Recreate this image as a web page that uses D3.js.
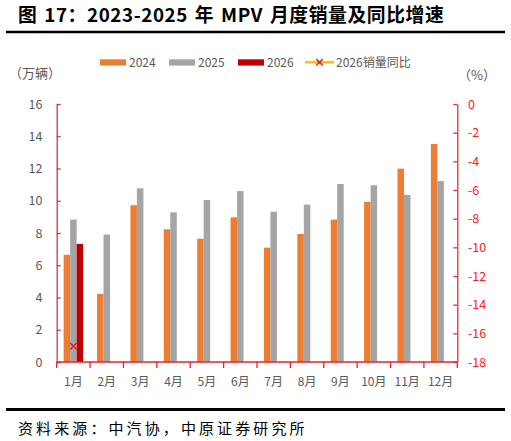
<!DOCTYPE html>
<html>
<head>
<meta charset="utf-8">
<script src="https://cdn.jsdelivr.net/npm/d3@7"></script>
<style>
  body { margin: 0; background: #fff; }
  svg { display: block; font-family: "Noto Sans CJK SC", sans-serif; }
</style>
</head>
<body>
<div id="chart-container"></div>
<script>
const months = ["1月", "2月", "3月", "4月", "5月", "6月", "7月", "8月", "9月", "10月", "11月", "12月"];
const seriesNames = ["2024", "2025", "2026"];
const sales2024 = [6.65, 4.22, 9.72, 8.23, 7.65, 8.97, 7.09, 7.94, 8.83, 9.94, 11.99, 13.52];
const sales2025 = [8.83, 7.9, 10.77, 9.28, 10.05, 10.6, 9.32, 9.76, 11.04, 10.96, 10.36, 11.22];
const sales2026 = [7.32];
const yoy2026 = [-16.9];
const leftTicks = [0, 2, 4, 6, 8, 10, 12, 14, 16];
const rightTicks = [0, -2, -4, -6, -8, -10, -12, -14, -16, -18];

const colors = { "2024": "#ED7D31", "2025": "#A5A5A5", "2026": "#C00000" };
const lineColor = "#FFC000";
const axisRed = "#E8202A";

const W = 511, H = 441;
const plot = { left: 56.7, right: 457.3, top: 104, bottom: 362 };

const svg = d3.select("#chart-container")
  .append("svg")
  .attr("width", W)
  .attr("height", H);

// title + rules
svg.append("text")
  .attr("x", 18)
  .attr("y", 22)
  .style("font-size", "18.8px")
  .style("font-weight", "bold")
  .style("letter-spacing", "0.6px")
  .style("word-spacing", "2px")
  .attr("fill", "#000")
  .text("图 17：2023-2025 年 MPV 月度销量及同比增速");

svg.append("line")
  .attr("x1", 6).attr("x2", 505)
  .attr("y1", 32).attr("y2", 32)
  .attr("stroke", "#000").attr("stroke-width", 2.5);

svg.append("line")
  .attr("x1", 6).attr("x2", 505)
  .attr("y1", 409.5).attr("y2", 409.5)
  .attr("stroke", "#000").attr("stroke-width", 3);

svg.append("text")
  .attr("x", 18)
  .attr("y", 434)
  .style("font-size", "15px")
  .style("letter-spacing", "3.1px")
  .attr("fill", "#000")
  .text("资料来源：中汽协，中原证券研究所");

// scales
const x = d3.scaleBand().domain(months).range([plot.left, plot.right]);
const xInner = d3.scaleBand().domain(seriesNames).range([0, x.bandwidth()]).paddingOuter(1.07);
const y = d3.scaleLinear().domain([0, 16]).range([plot.bottom, plot.top]);
const yRight = d3.scaleLinear().domain([-18, 0]).range([plot.bottom, plot.top]);

const barData = [];
months.forEach((m, i) => {
  [sales2024, sales2025, sales2026].forEach((arr, k) => {
    if (arr[i] != null) barData.push({ month: m, series: seriesNames[k], value: arr[i] });
  });
});

svg.append("g")
  .selectAll("rect")
  .data(barData)
  .join("rect")
  .attr("x", d => x(d.month) + xInner(d.series))
  .attr("width", xInner.bandwidth())
  .attr("y", d => y(d.value))
  .attr("height", d => y(0) - y(d.value))
  .attr("fill", d => colors[d.series]);

// left axis
svg.append("g")
  .attr("transform", `translate(${plot.left},0)`)
  .call(d3.axisRight(y).tickValues(leftTicks).tickSize(4).tickSizeOuter(0).tickFormat(""))
  .call(g => g.select(".domain").attr("stroke", "#D8363A").attr("stroke-width", 1.3))
  .call(g => g.selectAll(".tick line").attr("stroke", "#D8363A").attr("stroke-width", 1.3));

svg.append("g")
  .selectAll("text")
  .data(leftTicks)
  .join("text")
  .attr("x", 42.5)
  .attr("y", d => y(d))
  .attr("dy", "0.36em")
  .attr("text-anchor", "end")
  .style("font-size", "12.5px")
  .attr("fill", "#595959")
  .text(d => d);

// right axis
svg.append("g")
  .attr("transform", `translate(${plot.right},0)`)
  .call(d3.axisLeft(yRight).tickValues(rightTicks).tickSize(4).tickSizeOuter(0).tickFormat(""))
  .call(g => g.select(".domain").attr("stroke", "#D8363A").attr("stroke-width", 1.3))
  .call(g => g.selectAll(".tick line").attr("stroke", "#D8363A").attr("stroke-width", 1.3));

svg.append("g")
  .selectAll("text")
  .data(rightTicks)
  .join("text")
  .attr("x", 468)
  .attr("y", d => yRight(d))
  .attr("dy", "0.36em")
  .attr("text-anchor", "start")
  .style("font-size", "12.5px")
  .attr("fill", "#FF2020")
  .text(d => d);

// x axis
const xAxis = svg.append("g")
  .attr("transform", `translate(0,${plot.bottom})`);
xAxis.append("line")
  .attr("x1", plot.left).attr("x2", plot.right)
  .attr("stroke", axisRed).attr("stroke-width", 1.5);
xAxis.selectAll(".sep")
  .data(months.concat(["end"]))
  .join("line")
  .attr("class", "sep")
  .attr("x1", (d, i) => plot.left + i * x.step())
  .attr("x2", (d, i) => plot.left + i * x.step())
  .attr("y1", 0).attr("y2", 6)
  .attr("stroke", axisRed).attr("stroke-width", 1.3);
xAxis.selectAll(".lbl")
  .data(months)
  .join("text")
  .attr("class", "lbl")
  .attr("x", d => x(d) + x.bandwidth() / 2)
  .attr("y", 24)
  .attr("text-anchor", "middle")
  .style("font-size", "12px")
  .attr("fill", "#595959")
  .text(d => d);

// yoy line + markers
const yoyData = yoy2026.map((v, i) => ({ month: months[i], value: v }));
const lineX = d => x(d.month) + x.bandwidth() / 2;
svg.append("path")
  .datum(yoyData)
  .attr("fill", "none")
  .attr("stroke", lineColor)
  .attr("stroke-width", 2.5)
  .attr("d", d3.line().x(lineX).y(d => yRight(d.value)));

const cross = d3.symbol().type(d3.symbolX).size(28);
svg.append("g")
  .selectAll("path")
  .data(yoyData)
  .join("path")
  .attr("transform", d => `translate(${lineX(d)},${yRight(d.value)})`)
  .attr("d", cross)
  .attr("fill", "none")
  .attr("stroke", "#E0202A")
  .attr("stroke-width", 1.5);

// unit labels
svg.append("text")
  .attr("x", 9)
  .attr("y", 78)
  .style("font-size", "13px")
  .attr("fill", "#595959")
  .text("（万辆）");

svg.append("text")
  .attr("x", 458)
  .attr("y", 80)
  .style("font-size", "13px")
  .attr("fill", "#595959")
  .text("（%）");

// legend
const legendX = [100, 169, 238];
const legend = svg.append("g");
seriesNames.forEach((s, i) => {
  legend.append("rect")
    .attr("x", legendX[i]).attr("y", 59.3)
    .attr("width", 26).attr("height", 6.3)
    .attr("fill", colors[s]);
  legend.append("text")
    .attr("x", legendX[i] + 29).attr("y", 62.5)
    .attr("dy", "0.36em")
    .style("font-size", "12px")
    .attr("fill", "#595959")
    .text(s);
});
legend.append("line")
  .attr("x1", 305).attr("x2", 334)
  .attr("y1", 62.3).attr("y2", 62.3)
  .attr("stroke", lineColor).attr("stroke-width", 2.5);
legend.append("path")
  .attr("transform", "translate(319.5,62.3)")
  .attr("d", cross)
  .attr("fill", "none")
  .attr("stroke", "#E0202A")
  .attr("stroke-width", 1.5);
legend.append("text")
  .attr("x", 336).attr("y", 62.5)
  .attr("dy", "0.36em")
  .style("font-size", "12px")
  .attr("fill", "#595959")
  .text("2026销量同比");
</script>
</body>
</html>
